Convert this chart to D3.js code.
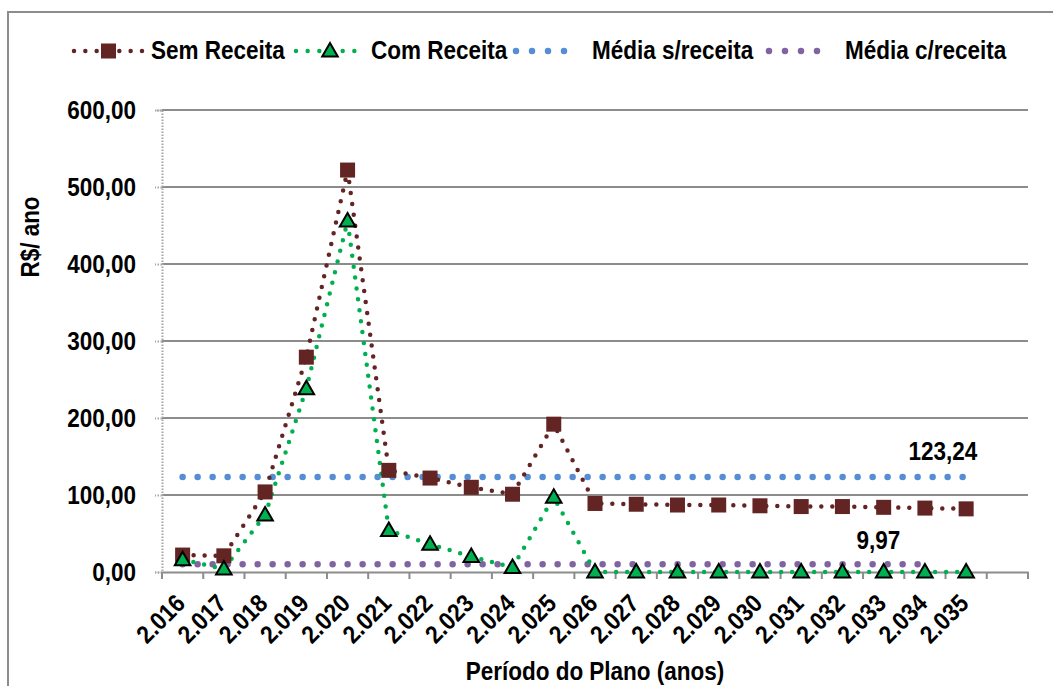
<!DOCTYPE html>
<html><head><meta charset="utf-8">
<script src="https://cdn.jsdelivr.net/npm/d3@7"></script>
<style>
html,body{margin:0;padding:0;background:#fff;}
svg{display:block;}
text{font-family:"Liberation Sans",Arial,sans-serif;font-weight:bold;fill:#000;font-size:25px;}
</style></head>
<body>
<svg id="chart" width="1053" height="686"></svg>
<script>
const years = ["2.016","2.017","2.018","2.019","2.020","2.021","2.022","2.023","2.024","2.025","2.026","2.027","2.028","2.029","2.030","2.031","2.032","2.033","2.034","2.035"];
const semReceita = [22,21,104,279,522,132,122,110,101,192,89,88,87,87,86,85,85,84,83,82];
const comReceita = [16,4,74,238,456,54,36,20,6,97,0,0,0,0,0,0,0,0,0,0];
const mediaSemValue = 123.24;
const mediaComValue = 9.97;
const mediaSem = years.map(() => mediaSemValue);
const mediaCom = years.slice(0, 19).map(() => mediaComValue);
const yTicks = [0,100,200,300,400,500,600];
const legendLabels = ["Sem Receita","Com Receita","Média s/receita","Média c/receita"];

(function(){
const svg = d3.select("#chart");
const pL = 162, pR = 1028, pT = 110, pB = 572;
const SX = 0.9;
const fmt = v => d3.format(".2f")(v).replace(".",",");
function condense(sel){
  sel.each(function(){
    const t = d3.select(this);
    const x0 = +t.attr("x") || 0;
    const tr = t.attr("transform") || "";
    t.attr("x", x0/SX).attr("transform", (tr + ` scale(${SX},1)`).trim());
  });
}

// outer border
svg.append("rect").attr("x",8).attr("y",12).attr("width",1100).attr("height",700)
  .attr("fill","none").attr("stroke","#8c8c8c").attr("stroke-width",2);

const slots = years.concat(["__empty"]);
const x = d3.scaleBand().domain(slots).range([pL,pR]).padding(0);
const xc = d => x(d) + x.bandwidth()/2;
const y = d3.scaleLinear().domain([0,600]).range([pB,pT]);

// gridlines
svg.append("g").selectAll("line").data(yTicks.filter(t=>t>0)).join("line")
  .attr("x1",pL).attr("x2",pR).attr("y1",d=>y(d)).attr("y2",d=>y(d))
  .attr("stroke","#8c8c8c").attr("stroke-width",2);

// y axis
const yAxis = svg.append("g").attr("transform",`translate(${pL},0)`)
  .call(d3.axisLeft(y).tickValues(yTicks).tickSize(7).tickPadding(19).tickFormat(fmt));
yAxis.select(".domain").attr("stroke","#a6a6a6").attr("stroke-width",2).attr("stroke-dasharray","1.5 1.5");
yAxis.selectAll(".tick line").attr("stroke","#a6a6a6").attr("stroke-width",2).attr("stroke-dasharray","1.5 1.5");
yAxis.selectAll(".tick text").attr("fill","#000").style("font-size","25px").attr("font-family",null);
yAxis.attr("font-family",null).attr("font-size",null);
condense(yAxis.selectAll(".tick text"));

// x axis
const xAxis = svg.append("g").attr("transform",`translate(0,${pB})`)
  .call(d3.axisBottom(x).tickValues([]).tickSizeOuter(0));
xAxis.attr("font-family",null).attr("font-size",null);
xAxis.select(".domain").attr("stroke","#8c8c8c").attr("stroke-width",2);
xAxis.append("g").selectAll("line").data(slots.map(s=>x(s)).concat([pR])).join("line")
  .attr("x1",d=>d).attr("x2",d=>d).attr("y1",0).attr("y2",7)
  .attr("stroke","#8c8c8c").attr("stroke-width",2);
const xl = xAxis.append("g").selectAll("text").data(years).join("text")
  .attr("transform",d=>`translate(${xc(d)+4},${33}) rotate(-45)`)
  .attr("text-anchor","end").text(d=>d);
condense(xl);

// lines
const line = d3.line().x((d,i)=>xc(years[i])).y(d=>y(d));
function dotted(data, color, width, gap){
  svg.append("path").datum(data).attr("d",line).attr("fill","none")
    .attr("stroke",color).attr("stroke-width",width).attr("stroke-linecap","round")
    .attr("stroke-dasharray",`0 ${gap}`);
}
dotted(mediaCom,"#8064a2",6.5,15);
dotted(mediaSem,"#558ed5",6.5,15);
dotted(semReceita,"#632523",4.5,11);
dotted(comReceita,"#00b050",4.5,11);

// markers
svg.append("g").selectAll("rect").data(semReceita).join("rect")
  .attr("x",(d,i)=>xc(years[i])-7.5).attr("y",d=>y(d)-7.5).attr("width",15).attr("height",15)
  .attr("fill","#632523");
const tri = d3.symbol().type(d3.symbolTriangle).size(105);
svg.append("g").selectAll("path").data(comReceita).join("path")
  .attr("d",tri).attr("transform",(d,i)=>`translate(${xc(years[i])},${y(d)+1})`)
  .attr("fill","#00b050").attr("stroke","#000").attr("stroke-width",2);

// value labels
const vl = svg.append("g");
vl.append("text").attr("x",943).attr("y",460).attr("text-anchor","middle").text(fmt(mediaSemValue));
vl.append("text").attr("x",878.5).attr("y",549).attr("text-anchor","middle").text(fmt(mediaComValue));
condense(vl.selectAll("text"));

// axis titles
const at = svg.append("g");
at.append("text").attr("x",595).attr("y",680).attr("text-anchor","middle").text("Período do Plano (anos)");
at.append("text").attr("transform","translate(39,237) rotate(-90)").attr("text-anchor","middle").text("R$/ ano");
condense(at.selectAll("text"));

// legend
const lg = svg.append("g");
const ly = 51;
function legLine(x1,x2,color,w,gap){
  lg.append("line").attr("x1",x1).attr("x2",x2).attr("y1",ly).attr("y2",ly)
    .attr("stroke",color).attr("stroke-width",w).attr("stroke-linecap","round").attr("stroke-dasharray",`0 ${gap}`);
}
legLine(74,142,"#632523",4.5,11.33);
lg.append("rect").attr("x",101).attr("y",ly-7.5).attr("width",15).attr("height",15).attr("fill","#632523");
legLine(296,366,"#00b050",4.5,11.67);
lg.append("path").attr("d",tri).attr("transform",`translate(330,${ly+1})`).attr("fill","#00b050").attr("stroke","#000").attr("stroke-width",2);
legLine(516,580,"#558ed5",6.5,16);
legLine(769,833,"#8064a2",6.5,16);
const lx = [151,371,592,845];
const lt = lg.selectAll("text").data(legendLabels).join("text")
  .attr("x",(d,i)=>lx[i]).attr("y",ly+8).text(d=>d);
condense(lt);
})();
</script>
</body></html>
